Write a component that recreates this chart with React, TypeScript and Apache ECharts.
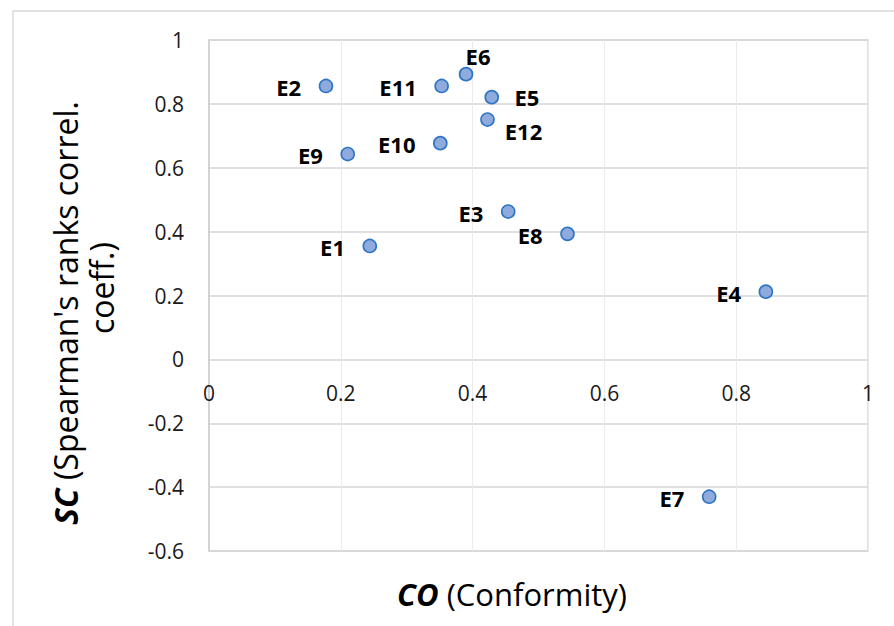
import React, { useEffect, useRef } from "react";
import * as echarts from "echarts";

const pointNames = ["E1", "E2", "E3", "E4", "E5", "E6", "E7", "E8", "E9", "E10", "E11", "E12"];
const coValues = [0.244, 0.1775, 0.454, 0.845, 0.429, 0.39, 0.759, 0.544, 0.2105, 0.351, 0.353, 0.4226];
const scValues = [0.355, 0.856, 0.463, 0.212, 0.821, 0.893, -0.43, 0.393, 0.643, 0.677, 0.856, 0.751];
const xTicks = [0, 0.2, 0.4, 0.6, 0.8, 1];
const yTicks = [-0.6, -0.4, -0.2, 0, 0.2, 0.4, 0.6, 0.8, 1];

const FONT = "Open Sans";
const GRID_TOP = 40;
const GRID_BOTTOM = 75;
const CHART_H = 626;

const labelStyleFor = (name: string) => {
  if (name === "E6") return { position: "top", distance: 0, offset: [12, 0] };
  if (name === "E5") return { position: "right", distance: 15.5, offset: [0, 0] };
  if (name === "E12") return { position: "right", distance: 10, offset: [0, 11] };
  return { position: "left", distance: 17.5, offset: [0, 1] };
};

export default function App() {
  const ref = useRef<HTMLDivElement>(null);
  useEffect(() => {
    if (!ref.current) return;
    const chart = echarts.init(ref.current, null, { renderer: "svg" });
    const data = pointNames.map((n, i) => ({
      name: n,
      value: [coValues[i], scValues[i]],
      label: labelStyleFor(n),
    }));
    const yMin = yTicks[0];
    const yMax = yTicks[yTicks.length - 1];
    const gridH = CHART_H - GRID_TOP - GRID_BOTTOM;
    const zeroOffset = -((0 - yMin) / (yMax - yMin)) * gridH;
    const fmt = (v: number) => String(parseFloat(v.toFixed(1)));
    chart.setOption({
      animation: false,
      backgroundColor: "#ffffff",
      textStyle: { fontFamily: FONT },
      grid: {
        left: 209,
        top: GRID_TOP,
        right: 26,
        bottom: GRID_BOTTOM,
        show: true,
        borderColor: "#d6d6d6",
        borderWidth: 1.5,
      },
      xAxis: {
        type: "value",
        position: "bottom",
        offset: zeroOffset,
        min: xTicks[0],
        max: xTicks[xTicks.length - 1],
        interval: 0.2,
        axisLine: { show: false, onZero: false },
        axisTick: { show: false },
        axisLabel: {
          margin: 23,
          fontSize: 21,
          color: "#1a1a1a",
          fontFamily: FONT,
          formatter: fmt,
        },
        splitLine: { show: true, lineStyle: { color: "#ebebeb", width: 1 } },
      },
      yAxis: {
        type: "value",
        min: yMin,
        max: yMax,
        interval: 0.2,
        axisLine: { show: true, onZero: false, lineStyle: { color: "#cfcfcf", width: 1.5 } },
        axisTick: { show: false },
        axisLabel: {
          margin: 25,
          fontSize: 21,
          color: "#1a1a1a",
          fontFamily: FONT,
          formatter: fmt,
        },
        splitLine: { show: true, lineStyle: { color: "#d6d6d6", width: 1.5 } },
      },
      graphic: [
        {
          type: "rect",
          shape: { x: 13, y: 11, width: 1000, height: 800 },
          style: { fill: "none", stroke: "#d9d9d9", lineWidth: 1.5 },
          silent: true,
          z: -10,
        },
        {
          type: "text",
          x: 512,
          y: 594,
          style: {
            text: "{b|CO} (Conformity)",
            fontSize: 31,
            fontFamily: FONT,
            fill: "#000",
            align: "center",
            verticalAlign: "middle",
            rich: {
              b: { fontSize: 31, fontWeight: "bold", fontStyle: "italic", fontFamily: FONT, fill: "#000" },
            },
          },
        },
        {
          type: "text",
          x: 65,
          y: 313,
          rotation: Math.PI / 2,
          style: {
            text: "{b|SC} (Spearman's ranks correl.",
            fontSize: 32,
            fontFamily: FONT,
            fill: "#000",
            align: "center",
            verticalAlign: "middle",
            rich: {
              b: { fontSize: 32, fontWeight: "bold", fontStyle: "italic", fontFamily: FONT, fill: "#000" },
            },
          },
        },
        {
          type: "text",
          x: 101,
          y: 288,
          rotation: Math.PI / 2,
          style: {
            text: "coeff.)",
            fontSize: 32,
            fontFamily: FONT,
            fill: "#000",
            align: "center",
            verticalAlign: "middle",
          },
        },
      ],
      series: [
        {
          type: "scatter",
          symbol: "circle",
          symbolSize: 13,
          itemStyle: { color: "#8FAADC", borderColor: "#2E75C6", borderWidth: 1.6, opacity: 1 },
          label: {
            show: true,
            formatter: "{b}",
            fontSize: 22,
            fontWeight: "bold",
            fontFamily: FONT,
            color: "#000",
          },
          data,
        },
      ],
    });
    return () => chart.dispose();
  }, []);
  return (
    <div
      ref={ref}
      style={{ position: "absolute", left: 0, top: 0, width: 894, height: 626 }}
    />
  );
}
